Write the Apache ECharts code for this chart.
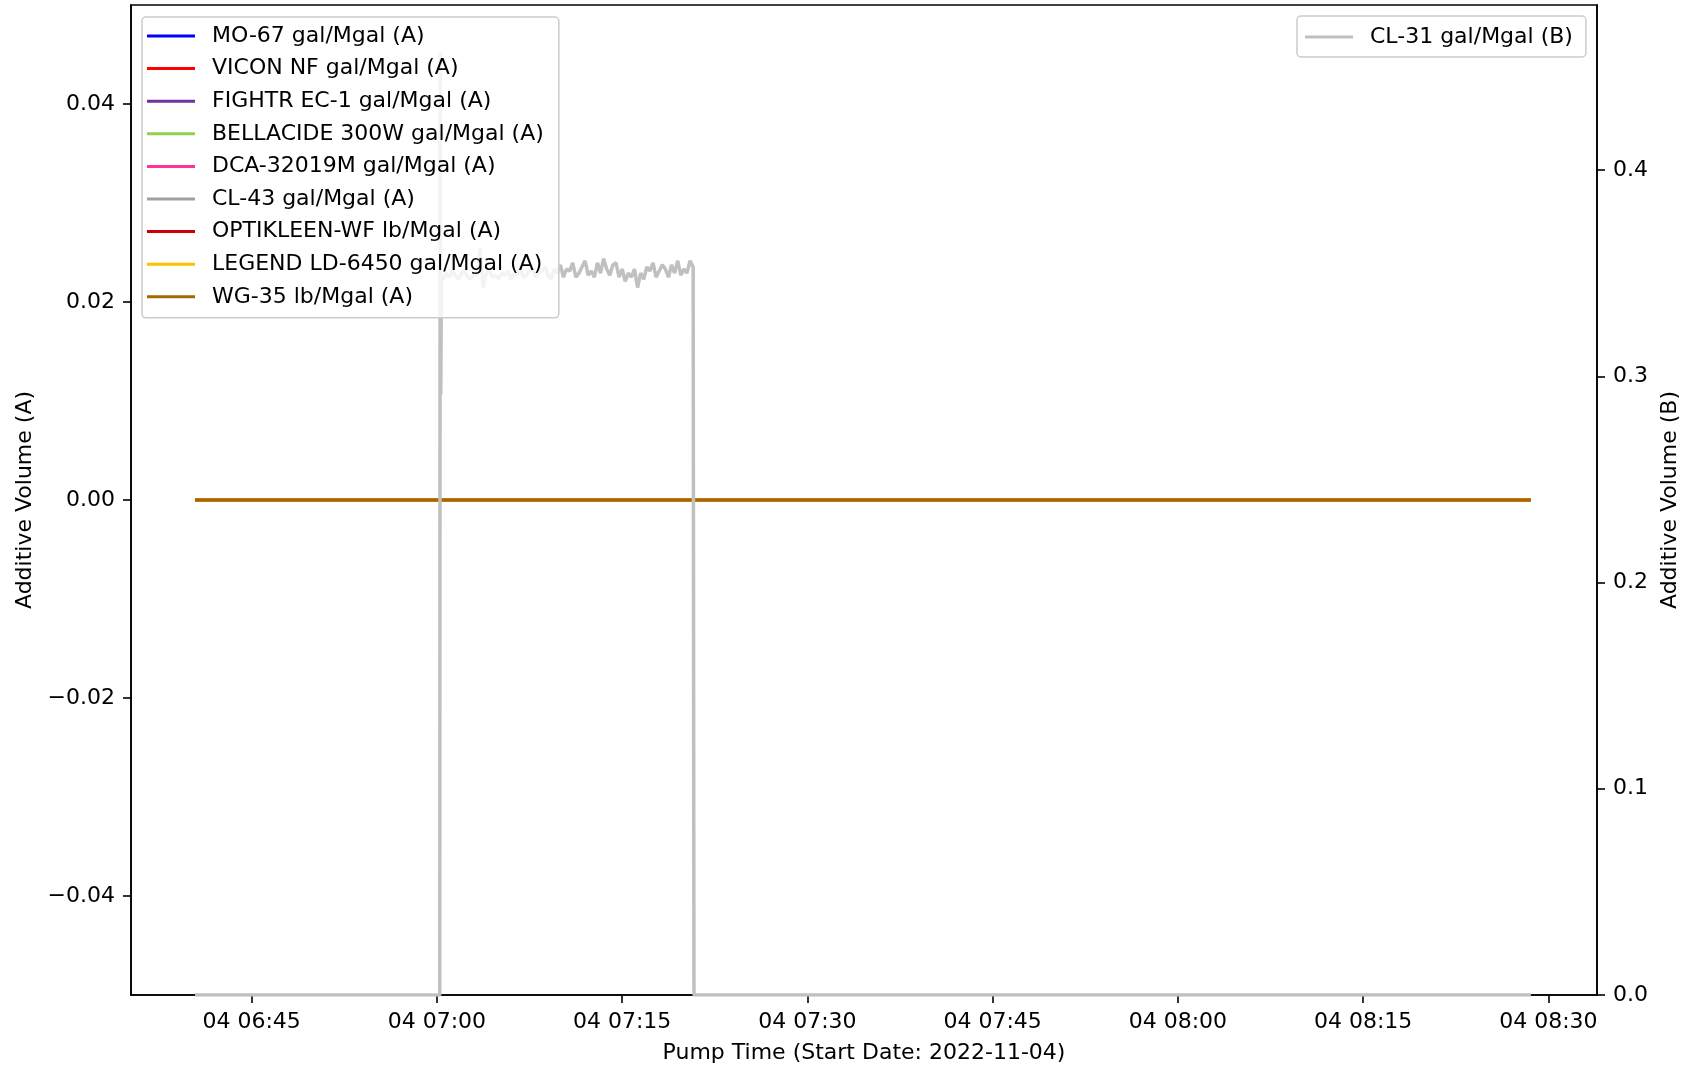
<!DOCTYPE html>
<html>
<head>
<meta charset="utf-8">
<script src="https://cdn.jsdelivr.net/npm/echarts/dist/echarts.min.js"></script>
<style>
html,body{margin:0;padding:0;background:#fff;}
#chart{width:1682px;height:1067px;}
</style>
</head>
<body>
<div id="chart"></div>
<script>
// ---------- DATA ----------
var dateStr = '2022-11-04';
// (A) series: all flat at zero across the run
var seriesANames = ['MO-67 gal/Mgal (A)','VICON NF gal/Mgal (A)','FIGHTR EC-1 gal/Mgal (A)','BELLACIDE 300W gal/Mgal (A)','DCA-32019M gal/Mgal (A)','CL-43 gal/Mgal (A)','OPTIKLEEN-WF lb/Mgal (A)','LEGEND LD-6450 gal/Mgal (A)','WG-35 lb/Mgal (A)'];
var seriesAColors = ['#0000ff','#ff0000','#7030a0','#92d050','#ff3399','#a0a0a0','#d00000','#ffc000','#a36800'];
var timesA = ['06:40:25','08:28:35'];
var valuesMO67 = [0,0];
var valuesVICON = [0,0];
var valuesFIGHTR = [0,0];
var valuesBELLACIDE = [0,0];
var valuesDCA = [0,0];
var valuesCL43 = [0,0];
var valuesOPTIKLEEN = [0,0];
var valuesLEGEND = [0,0];
var valuesWG35 = [0,0];

// (B) series CL-31
var cl31Name = 'CL-31 gal/Mgal (B)';
var cl31Times = ['06:40:25','07:00:14','07:00:16','07:00:19','07:00:22',
'07:00:30','07:00:45','07:01:00','07:01:15','07:01:30','07:01:45','07:02:00','07:02:15','07:02:30','07:02:45',
'07:03:00','07:03:15','07:03:30','07:03:45','07:04:00','07:04:15','07:04:30','07:04:45','07:05:00','07:05:15',
'07:05:30','07:05:45','07:06:00','07:06:15','07:06:30','07:06:45','07:07:00','07:07:15','07:07:30','07:07:45',
'07:08:00','07:08:15','07:08:30','07:08:45','07:09:00','07:09:15','07:09:30','07:09:45','07:10:00','07:10:15',
'07:10:30','07:10:45','07:11:00','07:11:15','07:11:30','07:11:45','07:12:00','07:12:15','07:12:30','07:12:45',
'07:13:00','07:13:15','07:13:30','07:13:45','07:14:00','07:14:15','07:14:30','07:14:45','07:15:00','07:15:15',
'07:15:30','07:15:45','07:16:00','07:16:15','07:16:30','07:16:45','07:17:00','07:17:15','07:17:30','07:17:45',
'07:18:00','07:18:15','07:18:30','07:18:45','07:19:00','07:19:15','07:19:30','07:19:45','07:20:00','07:20:15',
'07:20:30','07:20:45','07:20:49','08:28:35'];
var cl31Values = [0,0,0.457,0.291,0.349,
0.347,0.350,0.348,0.351,0.349,0.347,0.350,0.351,0.348,0.347,
0.350,0.349,0.362,0.343,0.350,0.351,0.348,0.349,0.347,0.350,
0.349,0.351,0.347,0.350,0.349,0.352,0.348,0.349,0.351,0.352,
0.348,0.350,0.351,0.353,0.349,0.347,0.352,0.350,0.354,0.348,
0.352,0.351,0.355,0.348,0.350,0.353,0.356,0.349,0.351,0.348,
0.355,0.350,0.357,0.352,0.349,0.354,0.355,0.348,0.352,0.346,
0.350,0.348,0.352,0.343,0.350,0.347,0.353,0.351,0.355,0.348,
0.351,0.354,0.352,0.348,0.354,0.350,0.356,0.349,0.352,0.350,
0.356,0.353,0,0];

// axis ticks
var xTickTimes = ['06:45','07:00','07:15','07:30','07:45','08:00','08:15','08:30'];
var xMinTime = '06:35:14', xMaxTime = '08:33:56';
var yATicks = [-0.04,-0.02,0,0.02,0.04];
var yAMin = -0.05, yAMax = 0.05;
var yBTicks = [0,0.1,0.2,0.3,0.4];
var yBMin = 0, yBMax = 0.48;

// ---------- BUILD ----------
function ts(hms){ if(hms.length===5) hms += ':00'; return new Date(dateStr+'T'+hms).getTime(); }
function pairs(times, vals){ return times.map(function(t,i){ return [ts(t), vals[i]]; }); }
function pad2(n){ return (n<10?'0':'')+n; }
function fmtTime(v){ var d=new Date(v); return pad2(d.getDate())+' '+pad2(d.getHours())+':'+pad2(d.getMinutes()); }

var aValues = [valuesMO67,valuesVICON,valuesFIGHTR,valuesBELLACIDE,valuesDCA,valuesCL43,valuesOPTIKLEEN,valuesLEGEND,valuesWG35];
var FONT = 'DejaVu Sans';
var series = [];
seriesANames.forEach(function(n,i){
  series.push({name:n,type:'line',yAxisIndex:0,data:pairs(timesA,aValues[i]),symbol:'none',showSymbol:false,
    lineStyle:{width:3,color:seriesAColors[i]},itemStyle:{color:seriesAColors[i]},animation:false});
});
series.push({name:cl31Name,type:'line',yAxisIndex:1,data:pairs(cl31Times,cl31Values),symbol:'none',showSymbol:false,
  lineStyle:{width:3.5,color:'#c0c0c0'},itemStyle:{color:'#c0c0c0'},animation:false});

function tickStyle(vals){ return {show:true,inside:false,length:8,lineStyle:{color:'#000',width:1.6},customValues:vals}; }
var axisLineStyle = {show:true,onZero:false,lineStyle:{color:'#000',width:1.6}};
var textBase = {fontFamily:FONT,fontSize:22,color:'#000'};

var legendCommon = {
  orient:'vertical',
  backgroundColor:'rgba(255,255,255,0.8)',
  borderColor:'#cccccc',borderWidth:1.5,borderRadius:4,
  icon:'rect',itemWidth:48,itemHeight:3,itemGap:10.6,
  textStyle:{fontFamily:FONT,fontSize:22,color:'#000',lineHeight:22,padding:[0,0,0,12]},
  selectedMode:false
};

var xTickVals = xTickTimes.map(ts);

var chart = echarts.init(document.getElementById('chart'),null,{renderer:'canvas'});
chart.setOption({
  animation:false,
  backgroundColor:'#fff',
  grid:{left:131,right:85,top:5,bottom:72,show:true,borderColor:'#000',borderWidth:1.6,backgroundColor:'transparent',
        containLabel:false,outerBoundsMode:'none'},
  legend:[
    Object.assign({},legendCommon,{left:142,top:17,padding:[8,15,10,5],data:seriesANames}),
    Object.assign({},legendCommon,{left:1297,top:16,padding:[10,13,9,8],data:[cl31Name]})
  ],
  xAxis:{
    type:'value',min:ts(xMinTime),max:ts(xMaxTime),scale:true,
    name:'Pump Time (Start Date: 2022-11-04)',nameLocation:'middle',nameGap:47,nameTextStyle:textBase,
    axisLine:axisLineStyle,splitLine:{show:false},
    axisTick:tickStyle(xTickVals),
    axisLabel:Object.assign({},textBase,{margin:16,customValues:xTickVals,formatter:fmtTime})
  },
  yAxis:[
    {
      type:'value',position:'left',min:yAMin,max:yAMax,
      name:'Additive Volume (A)',nameLocation:'middle',nameGap:94,nameRotate:90,nameTextStyle:textBase,
      axisLine:axisLineStyle,splitLine:{show:false},
      axisTick:tickStyle(yATicks),
      axisLabel:Object.assign({},textBase,{margin:16,customValues:yATicks,
        formatter:function(v){var s=Math.abs(v).toFixed(2); return (v<-1e-9?'\u2212':'')+s;}})
    },
    {
      type:'value',position:'right',min:yBMin,max:yBMax,
      name:'Additive Volume (B)',nameLocation:'middle',nameGap:51,nameRotate:90,nameTextStyle:textBase,
      axisLine:axisLineStyle,splitLine:{show:false},
      axisTick:tickStyle(yBTicks),
      axisLabel:Object.assign({},textBase,{margin:16,customValues:yBTicks,
        formatter:function(v){return v.toFixed(1);}})
    }
  ],
  series:series
});
</script>
</body>
</html>
